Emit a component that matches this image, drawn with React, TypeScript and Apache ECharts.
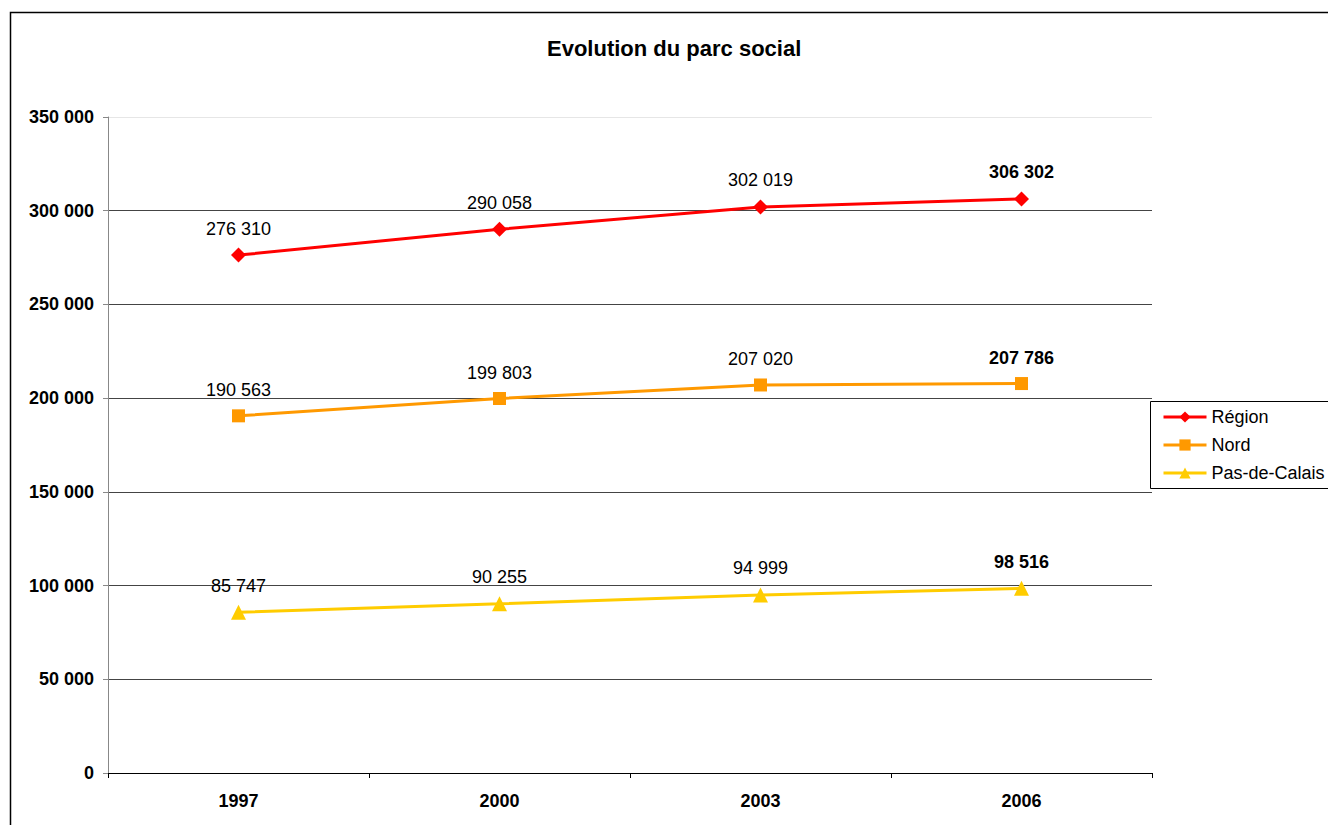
import React, { useEffect, useRef } from "react";
import * as echarts from "echarts";

const years = ["1997", "2000", "2003", "2006"];
const region = [276310, 290058, 302019, 306302];
const nord = [190563, 199803, 207020, 207786];
const pasDeCalais = [85747, 90255, 94999, 98516];
const yTicks = { min: 0, max: 350000, interval: 50000 };

const FONT = "'Liberation Sans', Arial, Helvetica, sans-serif";
const fmt = (v: number) => String(v).replace(/\B(?=(\d{3})+(?!\d))/g, " ");

function makeData(vals: number[]) {
  return vals.map((v, i) =>
    i === vals.length - 1 ? { value: v, label: { fontWeight: "bold" } } : { value: v }
  );
}

function makeSeries(name: string, vals: number[], color: string, symbol: string, size: number) {
  return {
    name,
    type: "line",
    data: makeData(vals),
    symbol,
    symbolSize: size,
    lineStyle: { color, width: 3 },
    itemStyle: { color },
    label: {
      show: true,
      position: "top",
      distance: 10,
      color: "#000",
      fontFamily: FONT,
      fontSize: 18,
      formatter: (p: any) => fmt(p.value),
    },
  };
}

export default function App() {
  const ref = useRef<HTMLDivElement>(null);
  useEffect(() => {
    if (!ref.current) return;
    const chart = echarts.init(ref.current, undefined, { renderer: "svg" });
    chart.setOption({
      animation: false,
      backgroundColor: "#fff",
      textStyle: { fontFamily: FONT },
      title: {
        text: "Evolution du parc social",
        left: 547,
        top: 37,
        padding: 0,
        textStyle: { fontFamily: FONT, fontSize: 22, fontWeight: "bold", color: "#000" },
      },
      grid: { left: 108, right: 176, top: 117, bottom: 52, containLabel: false },
      xAxis: {
        type: "category",
        data: years,
        boundaryGap: true,
        axisLine: { lineStyle: { color: "#000", width: 1 } },
        axisTick: { show: true, length: 5, inside: false, lineStyle: { color: "#000" } },
        axisLabel: { fontFamily: FONT, fontSize: 18, fontWeight: "bold", color: "#000", margin: 19 },
        splitLine: { show: false },
      },
      yAxis: {
        type: "value",
        min: yTicks.min,
        max: yTicks.max,
        interval: yTicks.interval,
        axisLine: { show: true, lineStyle: { color: "#888", width: 1 } },
        axisTick: { show: true, length: 5, inside: false, lineStyle: { color: "#888" } },
        axisLabel: {
          fontFamily: FONT,
          fontSize: 18,
          fontWeight: "bold",
          color: "#000",
          margin: 14,
          formatter: (v: number) => fmt(v),
        },
        splitLine: {
          show: true,
          showMinLine: true,
          showMaxLine: true,
          lineStyle: {
            color: ["#000", "#444", "#444", "#444", "#444", "#444", "#444", "#e6e6e6"],
            width: 1,
          },
        },
      },
      legend: {
        orient: "vertical",
        left: 1162,
        top: 408,
        padding: 0,
        itemWidth: 43,
        itemHeight: 14,
        itemGap: 10,
        lineStyle: { width: 3 },
        textStyle: { fontFamily: FONT, fontSize: 18, color: "#000", lineHeight: 18 },
        data: ["Région", "Nord", "Pas-de-Calais"],
      },
      graphic: [
        {
          type: "rect",
          shape: { x: 10.5, y: 12.5, width: 1400, height: 900 },
          style: { fill: "none", stroke: "#000", lineWidth: 1.5 },
          silent: true,
        },
        {
          type: "rect",
          shape: { x: 1150.5, y: 401.5, width: 300, height: 87 },
          style: { fill: "none", stroke: "#000", lineWidth: 1 },
          silent: true,
        },
      ],
      series: [
        makeSeries("Région", region, "#ff0000", "diamond", 15),
        makeSeries("Nord", nord, "#ff9900", "rect", 13),
        makeSeries("Pas-de-Calais", pasDeCalais, "#ffcc00", "triangle", 15),
      ],
    });
    return () => chart.dispose();
  }, []);
  return (
    <div
      ref={ref}
      style={{ position: "absolute", left: 0, top: 0, width: 1328, height: 825 }}
    />
  );
}
